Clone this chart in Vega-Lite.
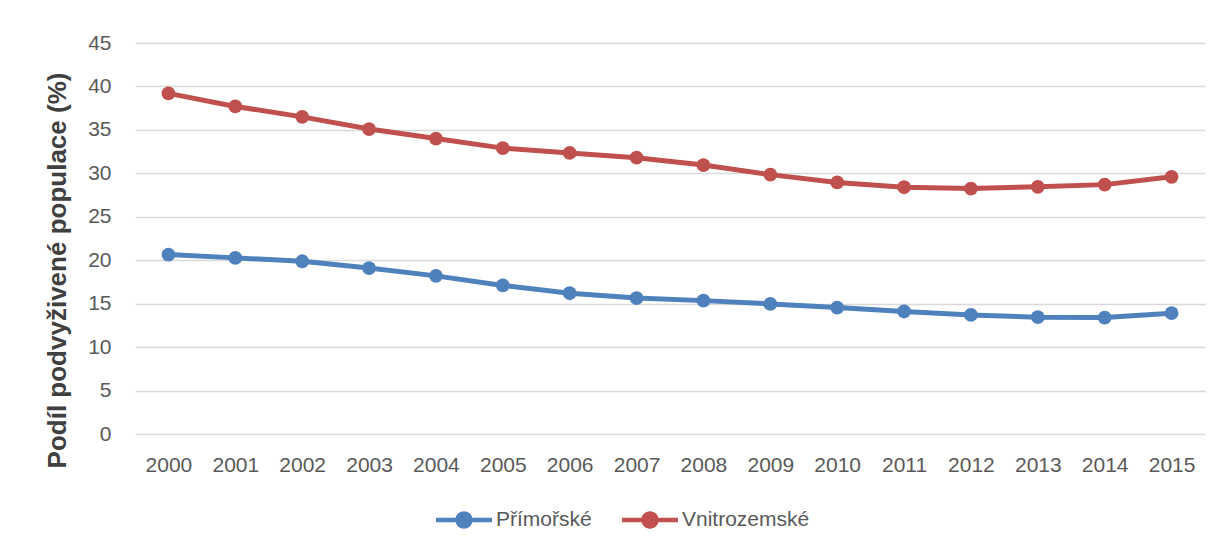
{
  "$schema": "https://vega.github.io/schema/vega-lite/v6.json",
  "width": 1070,
  "height": 391,
  "autosize": "none",
  "padding": {"left": 135, "top": 43, "right": 18, "bottom": 115},
  "background": "white",
  "config": {"view": {"stroke": null}, "font": "Liberation Sans"},
  "data": {
    "values": [
      {"year": "2000", "series": "Přímořské", "value": 20.65},
      {"year": "2001", "series": "Přímořské", "value": 20.27},
      {"year": "2002", "series": "Přímořské", "value": 19.88},
      {"year": "2003", "series": "Přímořské", "value": 19.1},
      {"year": "2004", "series": "Přímořské", "value": 18.2},
      {"year": "2005", "series": "Přímořské", "value": 17.1},
      {"year": "2006", "series": "Přímořské", "value": 16.2},
      {"year": "2007", "series": "Přímořské", "value": 15.65},
      {"year": "2008", "series": "Přímořské", "value": 15.35},
      {"year": "2009", "series": "Přímořské", "value": 14.97},
      {"year": "2010", "series": "Přímořské", "value": 14.55},
      {"year": "2011", "series": "Přímořské", "value": 14.1},
      {"year": "2012", "series": "Přímořské", "value": 13.7},
      {"year": "2013", "series": "Přímořské", "value": 13.45},
      {"year": "2014", "series": "Přímořské", "value": 13.4},
      {"year": "2015", "series": "Přímořské", "value": 13.9},
      {"year": "2000", "series": "Vnitrozemské", "value": 39.2},
      {"year": "2001", "series": "Vnitrozemské", "value": 37.7},
      {"year": "2002", "series": "Vnitrozemské", "value": 36.5},
      {"year": "2003", "series": "Vnitrozemské", "value": 35.1},
      {"year": "2004", "series": "Vnitrozemské", "value": 34.0},
      {"year": "2005", "series": "Vnitrozemské", "value": 32.9},
      {"year": "2006", "series": "Vnitrozemské", "value": 32.35},
      {"year": "2007", "series": "Vnitrozemské", "value": 31.8},
      {"year": "2008", "series": "Vnitrozemské", "value": 30.95},
      {"year": "2009", "series": "Vnitrozemské", "value": 29.85},
      {"year": "2010", "series": "Vnitrozemské", "value": 28.95},
      {"year": "2011", "series": "Vnitrozemské", "value": 28.4},
      {"year": "2012", "series": "Vnitrozemské", "value": 28.25},
      {"year": "2013", "series": "Vnitrozemské", "value": 28.45},
      {"year": "2014", "series": "Vnitrozemské", "value": 28.7},
      {"year": "2015", "series": "Vnitrozemské", "value": 29.6}
    ]
  },
  "encoding": {
    "x": {
      "field": "year",
      "type": "ordinal",
      "scale": {"type": "point", "padding": 0.5},
      "axis": {
        "title": null,
        "labelAngle": 0,
        "labelFontSize": 21,
        "labelColor": "#595959",
        "labelPadding": 20,
        "domain": false,
        "ticks": false,
        "grid": false
      }
    },
    "y": {
      "field": "value",
      "type": "quantitative",
      "scale": {"domain": [0, 45]},
      "axis": {
        "values": [0, 5, 10, 15, 20, 25, 30, 35, 40, 45],
        "title": "Podíl podvyživené populace (%)",
        "titleFontSize": 26,
        "titleFontWeight": "bold",
        "titleColor": "#404040",
        "titleX": -78,
        "titleY": 227,
        "titleAngle": -90,
        "titleAlign": "center",
        "titleBaseline": "middle",
        "labelFontSize": 21,
        "labelColor": "#595959",
        "labelPadding": 24,
        "domain": false,
        "ticks": false,
        "grid": true,
        "gridColor": "#D9D9D9",
        "gridWidth": 1.3
      }
    },
    "color": {
      "field": "series",
      "type": "nominal",
      "scale": {"domain": ["Přímořské", "Vnitrozemské"], "range": ["#4F81BD", "#C0504D"]},
      "legend": {
        "title": null,
        "orient": "none",
        "direction": "horizontal",
        "legendX": 301,
        "legendY": 449,
        "padding": 0,
        "symbolType": "M-1,-0.08L1,-0.08L1,0.08L-1,0.08Z M-0.31,0A0.31,0.31,0,1,1,0.31,0A0.31,0.31,0,1,1,-0.31,0Z",
        "symbolSize": 3136,
        "symbolStrokeWidth": 0,
        "labelFontSize": 21,
        "labelColor": "#595959",
        "labelOffset": 4,
        "columnPadding": 30,
        "encode": {
          "symbols": {
            "update": {
              "fill": {"scale": "color", "field": "value"},
              "strokeWidth": {"value": 0},
              "opacity": {"value": 1}
            }
          }
        }
      }
    }
  },
  "layer": [
    {"mark": {"type": "line", "strokeWidth": 5}},
    {"mark": {"type": "point", "filled": true, "size": 190, "opacity": 1}}
  ]
}
